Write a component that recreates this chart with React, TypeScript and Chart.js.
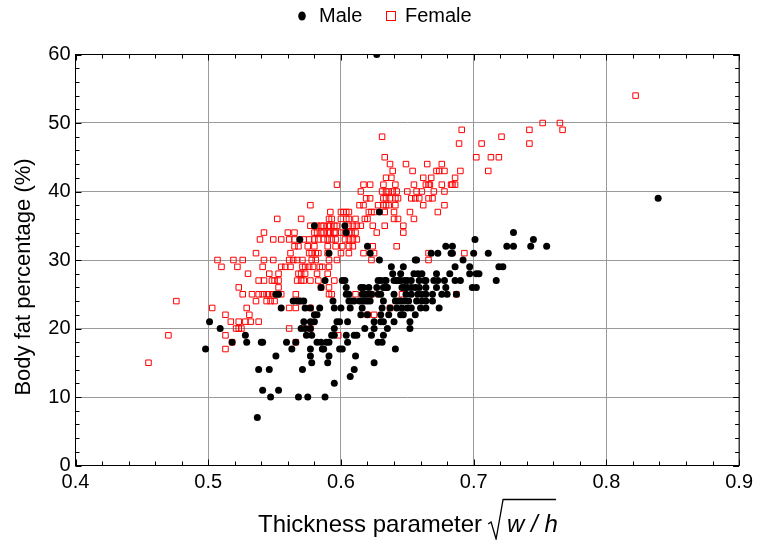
import React, { useEffect, useRef } from 'react';
import { Chart, registerables } from 'chart.js';

Chart.register(...registerables);

// Body fat percentage levels (%) and the thickness parameter sqrt(w/h) of each point at that level
const MALE_FAT = [60, 39, 37, 35, 34, 33, 32, 31, 30, 29, 28, 27, 26, 25, 24, 23, 22, 21, 20, 19, 18, 17, 16, 15, 14, 13, 12, 11, 10, 7];
const MALE_THICKNESS = [
  [0.627],
  [0.839],
  [0.629],
  [0.580, 0.603],
  [0.604, 0.730],
  [0.569, 0.701, 0.745],
  [0.620, 0.679, 0.684, 0.725, 0.730, 0.743, 0.755],
  [0.591, 0.622, 0.668, 0.673, 0.683, 0.684, 0.700, 0.711],
  [0.629, 0.656, 0.657, 0.692],
  [0.638, 0.647, 0.686, 0.697, 0.719, 0.722],
  [0.639, 0.645, 0.655, 0.658, 0.661, 0.672, 0.682, 0.697, 0.702, 0.704],
  [0.588, 0.601, 0.603, 0.628, 0.630, 0.633, 0.634, 0.640, 0.642, 0.643, 0.645, 0.648, 0.650, 0.653, 0.659, 0.663, 0.664, 0.670, 0.673, 0.678, 0.686, 0.690, 0.717],
  [0.585, 0.604, 0.615, 0.617, 0.621, 0.627, 0.632, 0.634, 0.635, 0.646, 0.648, 0.650, 0.653, 0.656, 0.659, 0.664, 0.672, 0.679, 0.699, 0.702],
  [0.551, 0.553, 0.604, 0.606, 0.616, 0.618, 0.620, 0.623, 0.628, 0.630, 0.640, 0.649, 0.653, 0.658, 0.661, 0.664, 0.669, 0.676, 0.680, 0.687],
  [0.564, 0.567, 0.569, 0.572, 0.594, 0.606, 0.608, 0.610, 0.614, 0.616, 0.618, 0.620, 0.622, 0.632, 0.641, 0.643, 0.645, 0.648, 0.651, 0.657, 0.661, 0.664, 0.669],
  [0.555, 0.573, 0.577, 0.584, 0.595, 0.600, 0.607, 0.616, 0.631, 0.637, 0.642, 0.646, 0.650, 0.653, 0.660, 0.664, 0.674],
  [0.580, 0.582, 0.615, 0.620, 0.630, 0.636, 0.645, 0.647, 0.656],
  [0.501, 0.572, 0.577, 0.580, 0.597, 0.599, 0.605, 0.625, 0.630, 0.632, 0.640, 0.652],
  [0.509, 0.570, 0.573, 0.577, 0.595, 0.618, 0.625, 0.635, 0.652],
  [0.528, 0.574, 0.578, 0.593, 0.595, 0.604, 0.610, 0.612, 0.623, 0.632],
  [0.518, 0.529, 0.540, 0.541, 0.559, 0.566, 0.582, 0.585, 0.589, 0.591, 0.605, 0.628, 0.631],
  [0.498, 0.563, 0.577, 0.586, 0.587, 0.599, 0.601, 0.641],
  [0.551, 0.577, 0.591, 0.611],
  [0.578, 0.590, 0.625],
  [0.538, 0.546, 0.571, 0.610],
  [0.607],
  [0.595],
  [0.541, 0.553],
  [0.547, 0.568, 0.575, 0.588],
  [0.537],
];

const FEMALE_FAT = [54, 50, 49, 48, 47, 45, 44, 43, 42, 41, 40, 39, 38, 37, 36, 35, 34, 33, 32, 31, 30, 29, 28, 27, 26, 25, 24, 23, 22, 21, 20, 19, 18, 17, 15];
const FEMALE_THICKNESS = [
  [0.822],
  [0.752, 0.765],
  [0.691, 0.742, 0.767],
  [0.631, 0.721],
  [0.689, 0.706, 0.742],
  [0.633, 0.702, 0.713, 0.719],
  [0.637, 0.649, 0.665, 0.676],
  [0.639, 0.654, 0.672, 0.674, 0.678, 0.690, 0.711],
  [0.634, 0.638, 0.662, 0.668, 0.686],
  [0.597, 0.617, 0.622, 0.632, 0.641, 0.655, 0.664, 0.666, 0.667, 0.676, 0.683, 0.684, 0.686],
  [0.615, 0.631, 0.634, 0.636, 0.639, 0.642, 0.650, 0.657, 0.661, 0.670, 0.678],
  [0.619, 0.622, 0.632, 0.634, 0.637, 0.641, 0.643, 0.653, 0.656, 0.659, 0.666, 0.669],
  [0.577, 0.614, 0.617, 0.628, 0.632, 0.634, 0.636, 0.641, 0.662, 0.678],
  [0.592, 0.600, 0.602, 0.604, 0.606, 0.621, 0.623, 0.625, 0.633, 0.640, 0.652, 0.673],
  [0.552, 0.570, 0.591, 0.593, 0.600, 0.604, 0.606, 0.611, 0.618, 0.620, 0.640, 0.643, 0.655],
  [0.577, 0.582, 0.585, 0.587, 0.590, 0.592, 0.595, 0.597, 0.606, 0.609, 0.612, 0.615, 0.624, 0.633, 0.647],
  [0.542, 0.560, 0.565, 0.580, 0.582, 0.585, 0.587, 0.590, 0.592, 0.595, 0.596, 0.600, 0.603, 0.606, 0.608, 0.611, 0.627, 0.647],
  [0.539, 0.549, 0.555, 0.561, 0.565, 0.572, 0.576, 0.580, 0.583, 0.587, 0.590, 0.593, 0.596, 0.603, 0.606, 0.609, 0.612],
  [0.565, 0.568, 0.575, 0.580, 0.590, 0.596, 0.601, 0.606, 0.609, 0.624, 0.642],
  [0.536, 0.562, 0.576, 0.578, 0.581, 0.583, 0.590, 0.600, 0.606, 0.617, 0.625, 0.666, 0.693],
  [0.507, 0.519, 0.526, 0.542, 0.549, 0.561, 0.564, 0.567, 0.571, 0.578, 0.581, 0.591, 0.597, 0.623, 0.666],
  [0.510, 0.522, 0.541, 0.555, 0.558, 0.562, 0.571, 0.573, 0.576, 0.579, 0.584, 0.586, 0.591],
  [0.530, 0.546, 0.553, 0.568, 0.570, 0.573, 0.582, 0.590],
  [0.538, 0.542, 0.548, 0.550, 0.553, 0.567, 0.570, 0.572, 0.577, 0.583, 0.595],
  [0.523, 0.553, 0.585, 0.591],
  [0.526, 0.533, 0.538, 0.541, 0.544, 0.546, 0.549, 0.555, 0.566, 0.591, 0.593, 0.611, 0.623, 0.646, 0.687],
  [0.476, 0.536, 0.544, 0.547, 0.550, 0.570],
  [0.503, 0.529, 0.561, 0.566, 0.577, 0.637],
  [0.513, 0.531, 0.620, 0.625],
  [0.517, 0.523, 0.528, 0.532, 0.538],
  [0.521, 0.523, 0.525, 0.561, 0.577],
  [0.470, 0.513, 0.598],
  [0.518, 0.566],
  [0.513],
  [0.455],
];

const X_TICKS = [0.4, 0.5, 0.6, 0.7, 0.8, 0.9];
const Y_TICKS = [0, 10, 20, 30, 40, 50, 60];
const SERIES_NAMES = ['Male', 'Female'];
const X_TITLE = 'Thickness parameter';
const X_TITLE_RADICAND = 'w / h';
const Y_TITLE = 'Body fat percentage (%)';

const FONT = '"Liberation Sans", Arial, Helvetica, sans-serif';

function toPoints(levels: number[], rows: number[][]) {
  const pts: { x: number; y: number }[] = [];
  levels.forEach((fat, i) => rows[i].forEach((t) => pts.push({ x: t, y: fat })));
  return pts;
}

const decorPlugin = {
  id: 'decor',
  afterDraw(chart: any) {
    const { ctx, chartArea: a, scales } = chart;
    const xs = scales.x;
    const ys = scales.y;
    ctx.save();
    // frame
    ctx.strokeStyle = '#000';
    ctx.lineWidth = 1;
    ctx.strokeRect(a.left, a.top, a.right - a.left, a.bottom - a.top);
    // inward ticks
    ctx.beginPath();
    for (let i = 0; i <= 25; i++) {
      const v = X_TICKS[0] + i * 0.02;
      const p = Math.round(xs.getPixelForValue(v)) + 0.5;
      const len = i % 5 === 0 ? 6 : 4;
      ctx.moveTo(p, a.bottom);
      ctx.lineTo(p, a.bottom - len);
      ctx.moveTo(p, a.top);
      ctx.lineTo(p, a.top + len);
    }
    for (let i = 0; i <= 30; i++) {
      const v = i * 2;
      const p = Math.round(ys.getPixelForValue(v)) + 0.5;
      const len = i % 5 === 0 ? 6 : 4;
      ctx.moveTo(a.left, p);
      ctx.lineTo(a.left + len, p);
      ctx.moveTo(a.right, p);
      ctx.lineTo(a.right - len, p);
    }
    ctx.stroke();

    // legend
    ctx.fillStyle = '#000';
    ctx.font = `20px ${FONT}`;
    ctx.textBaseline = 'middle';
    ctx.textAlign = 'left';
    const ly = 16;
    ctx.beginPath();
    ctx.ellipse(302, ly, 3.8, 4.5, 0, 0, Math.PI * 2);
    ctx.fill();
    ctx.fillText(SERIES_NAMES[0], 319, ly);
    ctx.strokeStyle = '#ff0000';
    ctx.lineWidth = 1;
    ctx.strokeRect(386.5, ly - 4.5, 9, 9);
    ctx.fillText(SERIES_NAMES[1], 405, ly);

    // x axis title
    ctx.font = `24px ${FONT}`;
    ctx.textBaseline = 'alphabetic';
    ctx.fillText(X_TITLE, 258, 532);
    const tw = ctx.measureText(X_TITLE).width;
    const rx = 258 + tw + 6;
    ctx.strokeStyle = '#000';
    ctx.lineWidth = 1.3;
    ctx.beginPath();
    ctx.moveTo(rx, 524);
    ctx.lineTo(rx + 3, 522);
    ctx.lineTo(rx + 8, 539);
    ctx.lineTo(rx + 15, 499.5);
    ctx.lineTo(rx + 68, 499.5);
    ctx.stroke();
    ctx.font = `italic 24px ${FONT}`;
    ctx.fillText(X_TITLE_RADICAND, rx + 19, 532);

    // y axis title
    ctx.font = `22px ${FONT}`;
    ctx.translate(30, 277);
    ctx.rotate(-Math.PI / 2);
    ctx.textAlign = 'center';
    ctx.fillText(Y_TITLE, 0, 0);
    ctx.restore();
  },
};

export default function App() {
  const ref = useRef<HTMLCanvasElement>(null);
  useEffect(() => {
    if (!ref.current) return;
    const chart = new Chart(ref.current, {
      type: 'scatter',
      data: {
        datasets: [
          {
            label: SERIES_NAMES[0],
            data: toPoints(MALE_FAT, MALE_THICKNESS),
            pointStyle: 'circle',
            pointRadius: 3.5,
            backgroundColor: '#000',
            borderColor: '#000',
            borderWidth: 0,
            clip: 0,
          },
          {
            label: SERIES_NAMES[1],
            data: toPoints(FEMALE_FAT, FEMALE_THICKNESS),
            pointStyle: 'rect',
            pointRadius: 3.9,
            backgroundColor: 'rgba(255,255,255,0)',
            borderColor: '#ff0000',
            borderWidth: 1,
            clip: 0,
          },
        ],
      },
      options: {
        animation: false,
        responsive: false,
        devicePixelRatio: 1,
        layout: { padding: { top: 54.5, right: 15.5, left: 0, bottom: 0 } },
        plugins: { legend: { display: false }, tooltip: { enabled: false } },
        scales: {
          x: {
            type: 'linear',
            min: 0.4,
            max: 0.9,
            afterFit: (s: any) => { s.height = 74.5; },
            afterBuildTicks: (s: any) => { s.ticks = X_TICKS.map((v) => ({ value: v })); },
            ticks: {
              color: '#000',
              font: { family: FONT, size: 20 },
              padding: 5,
              callback: (v: any) => Number(v).toFixed(1),
            },
            grid: { color: '#9a9a9a', lineWidth: 1, drawTicks: false },
            border: { display: false },
          },
          y: {
            type: 'linear',
            min: 0,
            max: 60,
            afterFit: (s: any) => { s.width = 75.5; },
            afterBuildTicks: (s: any) => { s.ticks = Y_TICKS.map((v) => ({ value: v })); },
            ticks: {
              color: '#000',
              font: { family: FONT, size: 20 },
              padding: 5,
            },
            grid: { color: '#9a9a9a', lineWidth: 1, drawTicks: false },
            border: { display: false },
          },
        },
      },
      plugins: [decorPlugin],
    });
    return () => chart.destroy();
  }, []);
  return (
    <div style={{ position: 'absolute', left: 0, top: 0, width: 758, height: 540, background: '#fff' }}>
      <canvas ref={ref} width={758} height={540} />
    </div>
  );
}
